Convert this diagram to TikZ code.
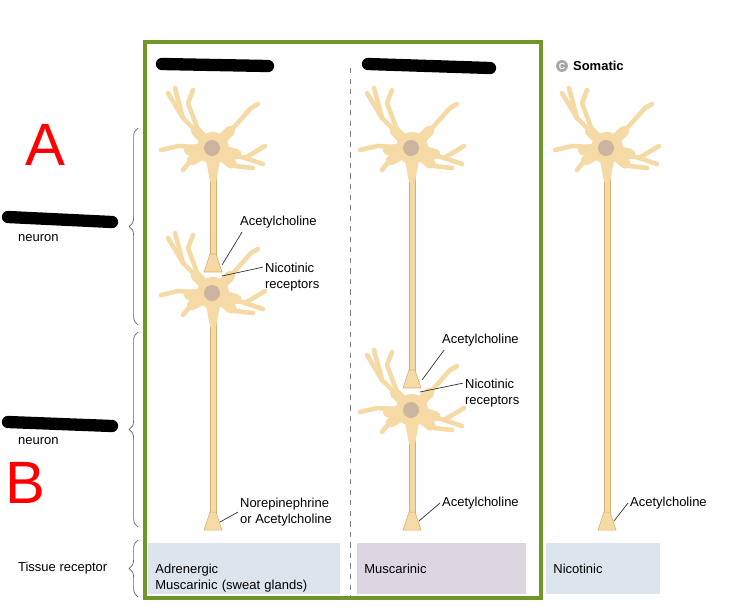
\documentclass[tikz,border=0pt]{standalone}
\usepackage{fontspec}
\setmainfont{Liberation Sans}
\usetikzlibrary{calc, positioning, decorations.pathreplacing}
\definecolor{soma}{RGB}{246,218,165}
\definecolor{somaline}{RGB}{215,175,110}
\definecolor{nucl}{RGB}{205,180,160}
\definecolor{frame}{RGB}{110,150,40}
\definecolor{recblue}{RGB}{220,228,238}
\definecolor{recmauve}{RGB}{220,214,224}
\tikzset{
    dend/.style={draw=soma, line width=2.6pt, line cap=round, line join=round},
    root/.style={draw=soma, line width=6pt, line cap=round},
    axon/.style={fill=soma, draw=somaline, line width=0.3pt},
    lbl/.style={font=\fontsize{7.4}{8.8}\selectfont, align=left, anchor=west, inner sep=1pt},
    pointer/.style={draw=black!80, line width=0.4pt},
    brace/.style={decorate, decoration={brace, amplitude=5pt, mirror}, draw=black!60, line width=0.4pt},
    redact/.style={line width=7pt, line cap=round, black},
    recbox/.style={anchor=north west, minimum height=1.02cm, text width=#1, align=left, inner sep=4pt, font=\fontsize{7.4}{8.8}\selectfont, text depth=0pt},
    pics/neuron/.style={code={
        \draw[dend] (0,0) -- (-30,-30) -- (-45,-55);
        \draw[dend] (-30,-30) -- (-38,-60);
        \draw[dend] (-12,-10) -- (-25,-45) -- (-20,-58);
        \draw[dend] (0,0) -- (22,-22) -- (38,-40) -- (45,-44);
        \draw[dend] (0,0) -- (-35,-2) -- (-52,2);
        \draw[dend] (0,0) -- (32,10) -- (52,-2);
        \draw[dend] (32,10) -- (50,16);
        \draw[dend] (0,0) -- (22,18) -- (40,20);
        \draw[dend] (0,0) -- (-22,12) -- (-30,22);
        \foreach \a in {-135,-45,175,15,40,150} \draw[root] (0,0) -- (\a:24);
        \fill[soma] (0,0) circle (16);
        \fill[soma] (-7,12) -- (7,12) -- (3,34) -- (-3,34) -- cycle;
        \fill[nucl] (-1,0) circle (8);
    }}
}
\begin{document}
\begin{tikzpicture}[x=0.02cm, y=-0.02cm]
    \useasboundingbox (0,0) rectangle (729,613);

    % receptor boxes
    \node[recbox=3.55cm, fill=recblue] (recA) at (148,543) {Adrenergic\\Muscarinic (sweat glands)};
    \node[recbox=3.1cm, fill=recmauve] (recB) at (357,543) {Muscarinic};
    \node[recbox=2.0cm, fill=recblue] (recC) at (546,543) {Nicotinic};

    % frame and divider
    \draw[gray, dashed, line width=0.4pt] (350,68) -- (350,596);
    \draw[frame, line width=2.6pt] (145,42) rectangle (541,598);

    % axons
    \foreach \x/\ya/\yb in {213/165/262, 213/305/520, 412/165/378, 412/425/520, 607/165/520} {
        \draw[axon] (\x-3,\ya) rectangle (\x+3,\yb);
        \draw[axon] (\x-3,\yb-8) -- (\x-9,\yb+10) -- (\x+9,\yb+10) -- (\x+3,\yb-8) -- cycle;
    }
    \coordinate (termA1) at (222,265);
    \coordinate (termA2) at (220,522);
    \coordinate (termB1) at (422,380);
    \coordinate (termB2) at (419,521);
    \coordinate (termC) at (614,521);
    \coordinate (recA1) at (222,276);
    \coordinate (recB1) at (420,392);

    % neurons
    \pic at (213,148) {neuron};
    \pic at (213,293) {neuron};
    \pic at (412,148) {neuron};
    \pic at (412,410) {neuron};
    \pic at (607,148) {neuron};

    % labels
    \node[lbl] (achA1) at (238,222) {Acetylcholine};
    \node[lbl] (nicA) at (263,277) {Nicotinic\\receptors};
    \node[lbl] (norA) at (238,512) {Norepinephrine\\or Acetylcholine};
    \node[lbl] (achB1) at (440,340) {Acetylcholine};
    \node[lbl] (nicB) at (463,393) {Nicotinic\\receptors};
    \node[lbl] (achB2) at (440,503) {Acetylcholine};
    \node[lbl] (achC) at (628,503) {Acetylcholine};
    \draw[pointer] (achA1.south west) ++(4,2) -- (termA1);
    \draw[pointer] (nicA.north west) ++(0,6) -- (recA1);
    \draw[pointer] (norA.west) -- (termA2);
    \draw[pointer] (achB1.south west) ++(4,2) -- (termB1);
    \draw[pointer] (nicB.north west) ++(0,6) -- (recB1);
    \draw[pointer] (achB2.west) -- (termB2);
    \draw[pointer] (achC.west) -- (termC);

    % headings
    \node[circle, fill=gray!70, inner sep=0.6pt, font=\fontsize{5}{5}\selectfont\bfseries, text=white] (circC) at (562,66) {C};
    \node[lbl, font=\fontsize{7.4}{8.8}\selectfont\bfseries] (somatic) at (571,66) {Somatic};
    \draw[redact] (162,64) -- (268,66);
    \draw[redact] (368,64) -- (490,68);

    % left side
    \draw[brace] (138,128) -- (138,325);
    \draw[brace] (138,332) -- (138,527);
    \draw[brace] (138,540) -- (138,597);
    \draw[redact] (8,217) -- (112,222);
    \draw[redact] (8,422) -- (112,426);
    \node[lbl] (pre) at (16,238) {neuron};
    \node[lbl] (post) at (16,441) {neuron};
    \node[lbl] (tissue) at (16,568) {Tissue receptor};
    \node[red, font=\fontsize{34}{34}\selectfont] (markA) at (45,145) {A};
    \node[red, font=\fontsize{34}{34}\selectfont] (markB) at (25,483) {B};
\end{tikzpicture}
\end{document}
